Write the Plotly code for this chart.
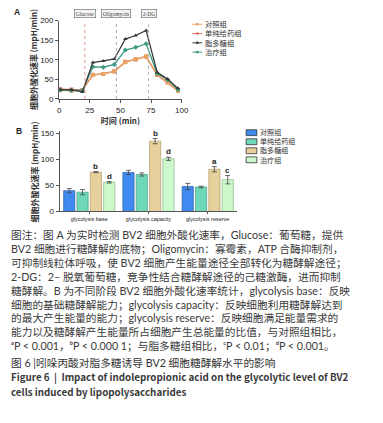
import plotly.graph_objects as go

W, H = 383, 423

# ---------------- data ----------------
time_min = [1, 10, 19, 27.5, 36, 45, 54, 62.5, 71, 80, 88.5, 97]
ecar_ctrl = [22, 21, 22, 61, 64, 70, 94, 102, 109, 62, 43, 20]
ecar_drug = [25, 24, 23, 62, 64, 71, 95, 101, 108, 61, 42, 21]
ecar_lps = [24, 23, 18, 93, 97, 102, 153, 162, 175, 68, 51, 27]
ecar_treat = [23, 22, 21, 82, 81, 88, 125, 132, 141, 65, 49, 24]

inject_times = [21, 46.7, 73]
inject_labels = ["Glucose", "Oligomycin", "2-DG"]

group_names = ["对照组", "单纯给药组", "脂多糖组", "治疗组"]

categories = ["glycolysis base", "glycolysis capacity", "glycolysis reserve"]
bar_ctrl = [40, 75, 48]
bar_ctrl_err = [4, 4, 6]
bar_drug = [37, 71, 47]
bar_drug_err = [5, 3, 1.5]
bar_lps = [75.5, 135, 81]
bar_lps_err = [1, 5, 5]
bar_treat = [56, 101, 61]
bar_treat_err = [1.5, 3, 8]
sig_lps = ["b", "b", "a"]
sig_treat = ["d", "d", "c"]

caption_lines = [
    "图注：图 A 为实时检测 BV2 细胞外酸化速率，Glucose：葡萄糖，提供",
    "BV2 细胞进行糖酵解的底物；Oligomycin：寡霉素，ATP 合酶抑制剂，",
    "可抑制线粒体呼吸，使 BV2 细胞产生能量途径全部转化为糖酵解途径；",
    "2-DG：2– 脱氧葡萄糖，竞争性结合糖酵解途径的己糖激酶，进而抑制",
    "糖酵解。B 为不同阶段 BV2 细胞外酸化速率统计，glycolysis base：反映",
    "细胞的基础糖酵解能力；glycolysis capacity：反映细胞利用糖酵解达到",
    "的最大产生能量的能力；glycolysis reserve：反映细胞满足能量需求的",
    "能力以及糖酵解产生能量所占细胞产生总能量的比值，与对照组相比，",
]
caption_pvals = "ᵃP < 0.001，ᵇP < 0.000 1；与脂多糖组相比，ᶜP < 0.01；ᵈP < 0.001。"
title_cn = "图 6 |吲哚丙酸对脂多糖诱导 BV2 细胞糖酵解水平的影响"
title_en = ["Figure 6  |  Impact of indolepropionic acid on the glycolytic level of BV2",
            "cells induced by lipopolysaccharides"]

# ---------------- styles ----------------
line_colors = ["#E9A261", "#E0735F", "#3A3A3A", "#3C9A82"]
line_symbols = ["square", "square", "triangle-up", "diamond"]
bar_colors = ["#3F8AF0", "#6FD8B8", "#E6D19C", "#CCF8CC"]
bar_edges = ["#2A5FA8", "#4C9C82", "#B49C6A", "#86B886"]
FONT = "Liberation Sans, Arial, Noto Sans CJK SC"
CJK = "Noto Sans CJK SC, Liberation Sans, DejaVu Sans"
CAPFONT = "Lato, Noto Sans CJK SC, DejaVu Sans"


def px(x):
    return x / W


def py(y):
    return 1 - y / H


fig = go.Figure()

# ---------------- panel A ----------------
series_a = [ecar_ctrl, ecar_drug, ecar_lps, ecar_treat]
draw_order = [1, 0, 3, 2]  # draw the hidden 单纯给药组 first, 脂多糖组 last
for k in draw_order:
    fig.add_trace(go.Scatter(
        x=time_min, y=series_a[k], name=group_names[k], mode="lines+markers",
        line=dict(color=line_colors[k], width=1.3),
        marker=dict(color=line_colors[k], symbol=line_symbols[k], size=4),
        xaxis="x", yaxis="y", showlegend=False))

# ---------------- panel B ----------------
bar_vals = [bar_ctrl, bar_drug, bar_lps, bar_treat]
bar_errs = [bar_ctrl_err, bar_drug_err, bar_lps_err, bar_treat_err]
for name, v, e, c, ec in zip(group_names, bar_vals, bar_errs, bar_colors, bar_edges):
    fig.add_trace(go.Bar(
        x=categories, y=v, name=name,
        marker=dict(color=c, line=dict(color=ec, width=0.7)),
        error_y=dict(type="data", array=e, color="#444444", thickness=0.8, width=2.5),
        xaxis="x2", yaxis="y2", showlegend=False))

shapes = []
annotations = []

# injection markers
inj_colors = ["#D9776A", "#7F93B0", "#8FAE9A"]
for t, lab, c in zip(inject_times, inject_labels, inj_colors):
    shapes.append(dict(type="line", xref="x", yref="y domain", x0=t, x1=t, y0=0, y1=1,
                       line=dict(color=c, width=0.8, dash="dot")))
    annotations.append(dict(x=t, xref="x", y=py(10), yref="paper", text=lab,
                            showarrow=False, xanchor="center", yanchor="middle",
                            font=dict(family="Liberation Serif", size=5.5, color="#444"),
                            bordercolor="#777", borderwidth=0.7, borderpad=1,
                            bgcolor="#F4F4F4"))

# significance letters
bar_step = 13.5
for vals, errs, letters, idx in [(bar_lps, bar_lps_err, sig_lps, 2),
                                 (bar_treat, bar_treat_err, sig_treat, 3)]:
    for cat, v, e, l in zip(categories, vals, errs, letters):
        annotations.append(dict(x=cat, xref="x2", y=v + e, yref="y2", text="<b>%s</b>" % l,
                                showarrow=False, xanchor="center", yanchor="bottom",
                                xshift=(idx - 1.5) * bar_step, yshift=-1,
                                font=dict(family=FONT, size=8, color="#222")))

# custom legend A (one multi-line text block + symbol marks)
fs_a = 7.3
step_a = fs_a * 1.3
top_a = 20.7
for i, (c, s) in enumerate(zip(line_colors, line_symbols)):
    yy = top_a + i * step_a
    shapes.append(dict(type="line", xref="paper", yref="paper", x0=px(195), x1=px(205),
                       y0=py(yy), y1=py(yy), line=dict(color=c, width=1)))
    shapes.append(dict(type="rect", xref="paper", yref="paper", x0=px(198.8), x1=px(201.2),
                       y0=py(yy + 1.2), y1=py(yy - 1.2), line=dict(width=0), fillcolor=c))
annotations.append(dict(x=px(205.5), y=py(top_a + 1.5 * step_a), xref="paper", yref="paper",
                        text="<br>".join(group_names), align="left",
                        showarrow=False, xanchor="left", yanchor="middle",
                        font=dict(family=CJK, size=fs_a, color="#333")))

# custom legend B
fs_b = 7.1
step_b = fs_b * 1.3
top_b = 131.5
for i, (c, ec) in enumerate(zip(bar_colors, bar_edges)):
    yy = top_b + i * step_b
    shapes.append(dict(type="rect", xref="paper", yref="paper", x0=px(250), x1=px(261),
                       y0=py(yy + 3), y1=py(yy - 3), fillcolor=c,
                       line=dict(color="#333", width=0.8)))
annotations.append(dict(x=px(262), y=py(top_b + 1.5 * step_b), xref="paper", yref="paper",
                        text="<br>".join(group_names), align="left",
                        showarrow=False, xanchor="left", yanchor="middle",
                        font=dict(family=CJK, size=fs_b, color="#333")))

# panel letters
annotations.append(dict(x=px(10), y=py(8), xref="paper", yref="paper", text="<b>A</b>",
                        showarrow=False, xanchor="left", yanchor="middle",
                        font=dict(family=FONT, size=8.5, color="#222")))
annotations.append(dict(x=px(12), y=py(130), xref="paper", yref="paper", text="<b>B</b>",
                        showarrow=False, xanchor="left", yanchor="middle",
                        font=dict(family=FONT, size=8.5, color="#222")))

# y titles
for yc in [57, 172]:
    annotations.append(dict(x=px(33), y=py(yc), xref="paper", yref="paper",
                            text="<b>细胞外酸化速率 (mpH/min)</b>", textangle=-90,
                            showarrow=False, xanchor="center", yanchor="middle",
                            font=dict(family=CJK, size=8, color="#333")))

# caption (one multi-line block) + p-value line
cap_fs = 10.7
cap_step = cap_fs * 1.3
cap_y0 = 236.5
n_cap = len(caption_lines)
annotations.append(dict(x=px(7), y=py(cap_y0 + (n_cap - 1) / 2 * cap_step),
                        xref="paper", yref="paper",
                        text="<br>".join(caption_lines), align="left",
                        showarrow=False, xanchor="left", yanchor="middle",
                        font=dict(family=CAPFONT, size=cap_fs, color="#3a3a3a")))
annotations.append(dict(x=px(7), y=py(cap_y0 + n_cap * cap_step + 1.5),
                        xref="paper", yref="paper", text=caption_pvals,
                        showarrow=False, xanchor="left", yanchor="middle",
                        font=dict(family=CAPFONT, size=cap_fs, color="#3a3a3a")))
annotations.append(dict(x=px(7), y=py(366.5), xref="paper", yref="paper", text=title_cn,
                        showarrow=False, xanchor="left", yanchor="middle",
                        font=dict(family=CAPFONT, size=cap_fs, color="#333")))
for i, line in enumerate(title_en):
    annotations.append(dict(x=px(7), y=py(381.5 + i * 15), xref="paper", yref="paper",
                            text="<b>%s</b>" % line, showarrow=False, xanchor="left",
                            yanchor="middle",
                            font=dict(family=CJK, size=9.8, color="#3a3a3a")))

axis_common = dict(showline=True, linecolor="#555", linewidth=1, ticks="outside",
                   ticklen=3, tickcolor="#555", showgrid=False, zeroline=False,
                   tickfont=dict(family=FONT, size=8, color="#222"))

fig.update_layout(
    width=W, height=H,
    margin=dict(l=0, r=0, t=0, b=0),
    paper_bgcolor="white", plot_bgcolor="white",
    showlegend=False,
    barmode="group", bargap=0.1, bargroupgap=0.16,
    xaxis=dict(domain=[px(58.5), px(184)], anchor="y", range=[0, 100],
               tickvals=[0, 25, 50, 75, 100],
               title=dict(text="<b>时间 (min)</b>", font=dict(family=CJK, size=8, color="#333"),
                          standoff=2),
               **axis_common),
    yaxis=dict(domain=[py(97), py(17)], anchor="x", range=[0, 200],
               tickvals=[0, 50, 100, 150, 200], **axis_common),
    xaxis2=dict(domain=[px(59), px(241)], anchor="y2", range=[-0.5, 2.5],
                **{**axis_common, "ticklen": 2,
                   "tickfont": dict(family=FONT, size=5.5, color="#222")}),
    yaxis2=dict(domain=[py(212), py(130)], anchor="x2", range=[0, 154],
                tickvals=[0, 50, 100, 150], **axis_common),
    shapes=shapes,
    annotations=annotations,
)

fig.write_html("out.html",
               config={"displayModeBar": False},
               post_script="document.body.style.margin='0';document.body.style.overflow='hidden';")
